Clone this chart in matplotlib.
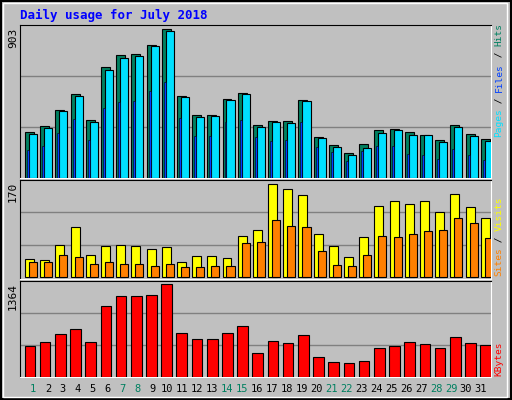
import matplotlib
matplotlib.use("Agg")
import matplotlib.pyplot as plt
from matplotlib.patches import Rectangle
import numpy as np

days = list(range(1, 32))
weekend = [1, 7, 8, 14, 15, 21, 22, 28, 29]
hits = [278,315,415,511,353,672,744,752,807,903,498,382,382,480,517,321,345,345,474,247,198,149,204,290,298,278,259,229,321,266,235]
files = [266,302,407,498,339,654,731,738,799,891,492,370,376,474,511,308,339,333,468,241,186,137,180,272,290,259,259,217,308,253,223]
pages = [168,192,272,358,229,425,462,468,529,584,364,253,253,339,351,247,223,229,339,186,155,106,161,192,192,143,137,118,174,137,112]
visits = [33,31,59,92,41,57,59,57,52,55,28,39,39,35,76,87,170,161,150,79,57,37,74,131,140,133,140,120,153,129,109]
sites = [28,28,41,37,24,28,24,24,20,24,18,18,20,20,63,65,105,94,92,48,22,20,41,76,74,79,85,87,109,100,72]
kbytes = [453,513,632,707,513,1050,1185,1185,1200,1364,647,558,558,647,752,348,528,498,617,289,214,199,229,423,453,513,483,423,587,498,468]

W, H = 512, 400
BG = "#C0C0C0"
fig = plt.figure(figsize=(W/100, H/100), dpi=100, facecolor=BG)
fig.patches.append(Rectangle((0.002, 0.002), 0.996, 0.996, transform=fig.transFigure,
                             fill=False, edgecolor="black", lw=1.5))
fig.patches.append(Rectangle((0.006, 0.008), 0.984, 0.985, transform=fig.transFigure,
                             fill=False, edgecolor="white", lw=1))

def mkax(y0, y1):
    ax = fig.add_axes([20/W, 1 - y1/H, (491-20)/W, (y1-y0)/H])
    ax.set_facecolor(BG)
    ax.set_xlim(0.5, 31.5)
    for s in ["top", "left"]:
        ax.spines[s].set_color("black")
    for s in ["bottom", "right"]:
        ax.spines[s].set_color("white")
    ax.set_xticks([]); ax.set_yticks([])
    return ax

x = np.array(days, dtype=float)
ek = dict(edgecolor="black", linewidth=0.8, align="edge", zorder=3)

ax1 = mkax(25, 178)
top1 = 903/0.972
ax1.set_ylim(0, top1)
for g in (top1/3, 2*top1/3):
    ax1.axhline(g, color="#808080", lw=1, zorder=1)
ax1.bar(x - 0.17, hits, width=0.59, color="#008060", **ek)
ax1.bar(x + 0.09, files, width=0.53, color="#00E0FF", **ek)
ax1.bar(x - 0.04, pages, width=0.13, color="#0040FF", edgecolor="black", linewidth=0.4, align="edge", zorder=4)

ax2 = mkax(180, 279)
top2 = 177.7
ax2.set_ylim(-3, top2)
for g in (top2/3, 2*top2/3):
    ax2.axhline(g, color="#808080", lw=1, zorder=1)
ax2.bar(x - 0.17, visits, width=0.59, color="#FFFF00", **ek)
ax2.bar(x + 0.09, sites, width=0.53, color="#FF8000", **ek)

ax3 = mkax(281, 377)
top3 = 1412
ax3.set_ylim(0, top3)
for g in (top3/3, 2*top3/3):
    ax3.axhline(g, color="#808080", lw=1, zorder=1)
ax3.bar(x - 0.2, kbytes, width=0.7, color="#FF0000", **ek)

mono = "DejaVu Sans Mono"
fig.text(20/W, 1 - 15/H, "Daily usage for July 2018", color="#0000FF", fontsize=9,
         fontweight="bold", family=mono, va="center")
for lab, y in (("903", 38), ("170", 192), ("1364", 297)):
    fig.text(13/W, 1 - y/H, lab, rotation=90, fontsize=8, family=mono, ha="center", va="center")

for d in days:
    fig.text((33 + (d - 1) * 14.93)/W, 1 - 389/H, str(d), fontsize=7.5, family=mono,
             color="#008060" if d in weekend else "black", ha="center", va="center")

FS = 6.8
CH = FS * 100 / 72 * 0.602

def vlabel(parts, ybottom):
    y = ybottom
    for txt, col in parts:
        fig.text(499/W, 1 - y/H, txt, rotation=90, fontsize=FS, family=mono,
                 color=col, ha="center", va="bottom")
        y -= len(txt) * CH

vlabel([("Pages", "#00E0FF"), (" / ", "black"), ("Files", "#0040FF"), (" / ", "black"), ("Hits", "#008060")], 137)
vlabel([("Sites", "#FF8000"), (" / ", "black"), ("Visits", "#FFFF00")], 276)
vlabel([("KBytes", "#FF0000")], 376)

fig.savefig("out.png", dpi=100, facecolor=BG)
